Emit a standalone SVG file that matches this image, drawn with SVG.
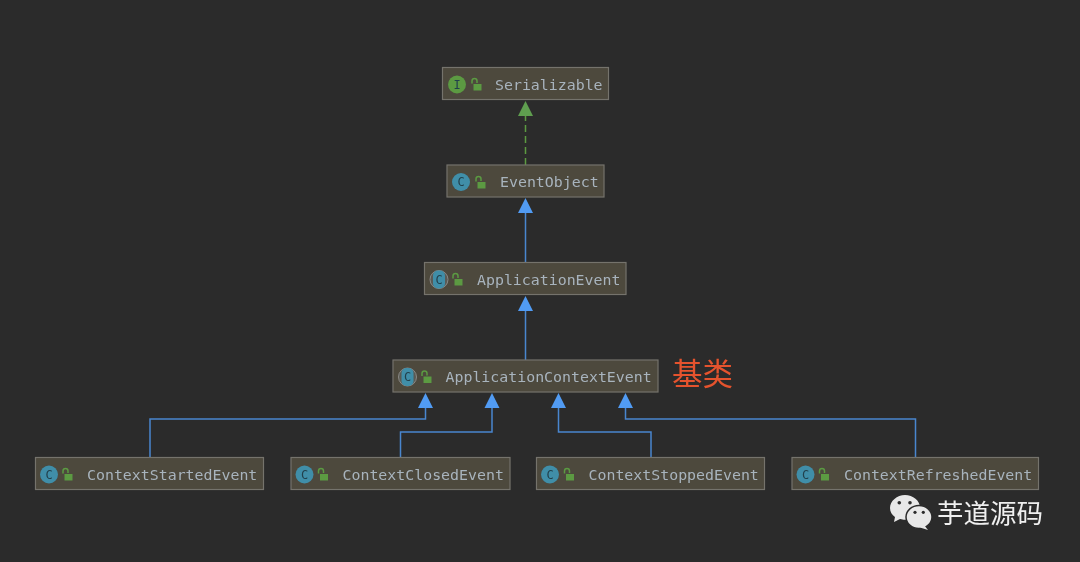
<svg xmlns="http://www.w3.org/2000/svg" width="1080" height="562" viewBox="0 0 1080 562">
<style>
.box{fill:#4d483e;stroke:#75736c;stroke-width:1.2}
.t{font-family:"DejaVu Sans Mono","Liberation Mono",monospace;font-size:14.9px;fill:#a8b4bd}
.c{fill:#3f8ea8}
.i{fill:#5b9a42}
.g{font-family:"DejaVu Sans Mono",monospace;font-size:12px;fill:#22404c;text-anchor:middle}
.lock{fill:#5b9a42}
.sh{fill:none;stroke:#5b9a42;stroke-width:1.5}
.edge{fill:none;stroke:#4a86cf;stroke-width:1.5}
.dash{fill:none;stroke:#5b9a42;stroke-width:1.5;stroke-dasharray:7 4}
.ah{fill:#519bf3}
.ag{fill:#5f9e50}
.cn{font-family:"Noto Sans CJK SC",sans-serif}
.ring{fill:#5a5a55;stroke:#8a8a86;stroke-width:1}
.soft{filter:url(#b)}
</style>
<defs>
<filter id="b" x="-5%" y="-5%" width="110%" height="110%"><feGaussianBlur stdDeviation="0.35"/></filter>
<g id="lk"><rect x="-4" y="-1" width="8" height="6.500" class="lock"/><path d="M-5.500 -1.500v-2.500a2.500 2.500 0 0 1 5 0v2" class="sh"/></g>
</defs>
<rect width="1080" height="562" fill="#2b2b2b"/>
<g class="soft">
<g id="connectors">
<path class="dash" d="M525.500 165V115"/>
<path class="edge" d="M525.500 263V212M525.500 360V309M150 457V419H425.500V406M400.500 457V432H492V406M651 457V432H558.500V406M915.500 457V419H625.500V406"/>
<path class="ag" d="M525.500 101l7.500 15h-15z"/>
<path class="ah" d="M525.500 198l7.500 15h-15zM525.500 296l7.500 15h-15zM425.500 393l7.500 15h-15zM492 393l7.500 15h-15zM558.500 393l7.500 15h-15zM625.500 393l7.500 15h-15z"/>
</g>
<g id="serializable"><rect class="box" x="442.500" y="67.500" width="166" height="32"/><circle class="i" cx="457" cy="84.500" r="9"/><text class="g" x="457" y="88.500">I</text><use href="#lk" x="477.500" y="85"/><text class="t" x="495" y="89.500">Serializable</text></g>
<g id="eventobject"><rect class="box" x="447" y="165" width="157" height="32"/><circle class="c" cx="461" cy="182" r="9"/><text class="g" x="461" y="186">C</text><use href="#lk" x="481.500" y="183"/><text class="t" x="500" y="187">EventObject</text></g>
<g id="applicationevent"><rect class="box" x="424.500" y="262.500" width="201.500" height="32"/><circle class="ring" cx="439" cy="279.500" r="9"/><rect class="c" x="433" y="270.500" width="12" height="18" rx="5"/><text class="g" x="439" y="283.500">C</text><use href="#lk" x="458.500" y="280"/><text class="t" x="477" y="284.500">ApplicationEvent</text></g>
<g id="applicationcontextevent"><rect class="box" x="393" y="360" width="265" height="32"/><circle class="ring" cx="407.500" cy="377" r="9"/><rect class="c" x="401.500" y="368" width="12" height="18" rx="5"/><text class="g" x="407.500" y="381">C</text><use href="#lk" x="427.500" y="377.500"/><text class="t" x="445.500" y="382">ApplicationContextEvent</text></g>
<g id="contextstartedevent"><rect class="box" x="35.500" y="457.500" width="228" height="32"/><circle class="c" cx="49" cy="474.500" r="9"/><text class="g" x="49" y="478.500">C</text><use href="#lk" x="68.500" y="475"/><text class="t" x="87" y="479.500">ContextStartedEvent</text></g>
<g id="contextclosedevent"><rect class="box" x="291" y="457.500" width="219" height="32"/><circle class="c" cx="304.500" cy="474.500" r="9"/><text class="g" x="304.500" y="478.500">C</text><use href="#lk" x="324" y="475"/><text class="t" x="342.500" y="479.500">ContextClosedEvent</text></g>
<g id="contextstoppedevent"><rect class="box" x="536.500" y="457.500" width="228" height="32"/><circle class="c" cx="550" cy="474.500" r="9"/><text class="g" x="550" y="478.500">C</text><use href="#lk" x="570" y="475"/><text class="t" x="588.500" y="479.500">ContextStoppedEvent</text></g>
<g id="contextrefreshedevent"><rect class="box" x="792" y="457.500" width="246.500" height="32"/><circle class="c" cx="805.500" cy="474.500" r="9"/><text class="g" x="805.500" y="478.500">C</text><use href="#lk" x="825" y="475"/><text class="t" x="844" y="479.500">ContextRefreshedEvent</text></g>
<text class="cn" x="672" y="385" font-size="30.500" fill="#e5532d">基类</text>
<g id="watermark">
<path d="M905 495c-8 0-15 6-15 13 0 4 2 7 5 9l-1 5 6-3c2 .5 3 .8 5 .8 8 0 15-6 15-12.500s-7-12.300-15-12.300z" fill="#e8e8e8"/>
<ellipse cx="919" cy="517" rx="13" ry="11.500" fill="#e8e8e8" stroke="#2b2b2b" stroke-width="1.500"/>
<path d="M924 525l4 5-8-2.500z" fill="#e8e8e8"/>
<circle cx="899.300" cy="502.700" r="1.800" fill="#2b2b2b"/><circle cx="910" cy="502.700" r="1.800" fill="#2b2b2b"/>
<circle cx="915" cy="512.300" r="1.600" fill="#2b2b2b"/><circle cx="923.300" cy="512.300" r="1.600" fill="#2b2b2b"/>
<text class="cn" x="937" y="523" font-size="26.500" fill="#efefef">芋道源码</text>
</g>
</g>
</svg>
